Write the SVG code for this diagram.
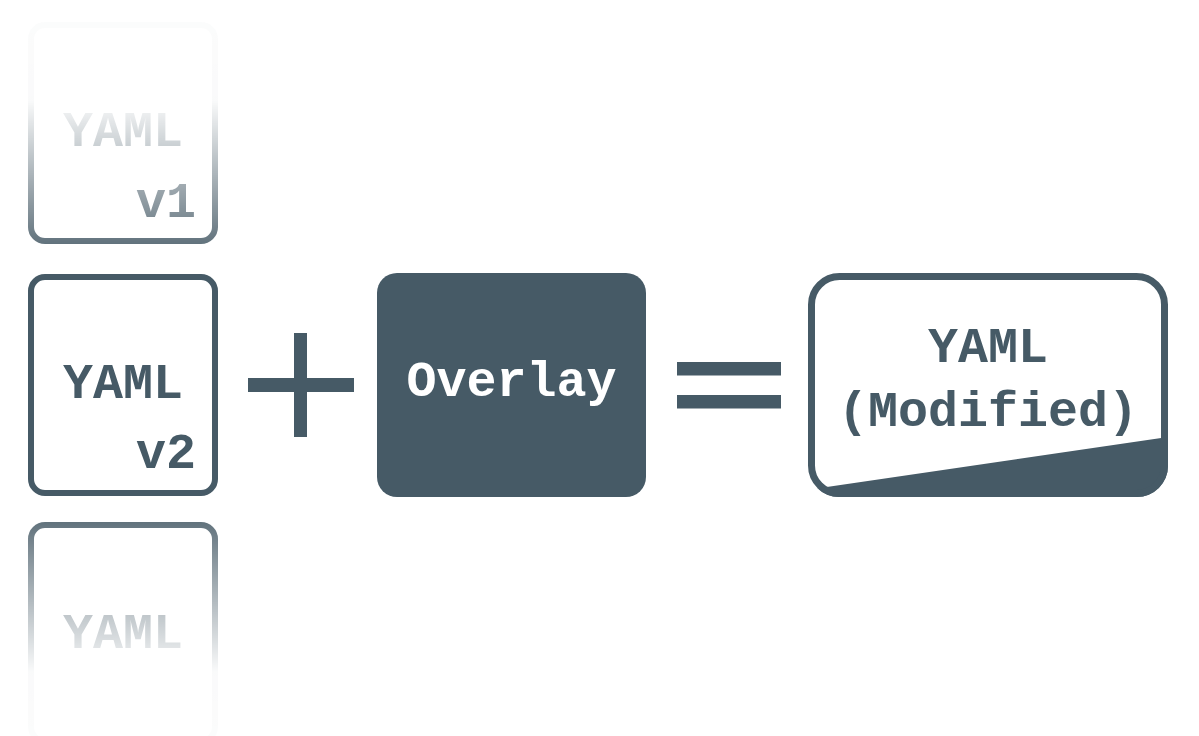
<svg xmlns="http://www.w3.org/2000/svg" width="1199" height="736" viewBox="0 0 1199 736">
<style>
.mono{font-family:"Liberation Mono","Courier New",monospace;font-weight:bold;font-size:50px}
.dark{fill:#465a66}
.box{fill:#fff;stroke:#465a66;stroke-width:6}
</style>
<defs>
<linearGradient id="fadeTop" gradientUnits="userSpaceOnUse" x1="0" y1="20" x2="0" y2="244">
<stop offset="0" stop-color="#fff" stop-opacity="0.02"/>
<stop offset="0.36" stop-color="#fff" stop-opacity="0.03"/>
<stop offset="1" stop-color="#fff" stop-opacity="0.85"/>
</linearGradient>
<linearGradient id="fadeBot" gradientUnits="userSpaceOnUse" x1="0" y1="522" x2="0" y2="736">
<stop offset="0" stop-color="#fff" stop-opacity="0.85"/>
<stop offset="0.7" stop-color="#fff" stop-opacity="0.03"/>
<stop offset="1" stop-color="#fff" stop-opacity="0.02"/>
</linearGradient>
<mask id="mTop" maskUnits="userSpaceOnUse" x="0" y="0" width="300" height="260">
<rect x="0" y="0" width="300" height="260" fill="url(#fadeTop)"/>
</mask>
<mask id="mBot" maskUnits="userSpaceOnUse" x="0" y="500" width="300" height="236">
<rect x="0" y="500" width="300" height="236" fill="url(#fadeBot)"/>
</mask>
<clipPath id="resClip">
<rect x="808" y="273" width="360" height="224" rx="31"/>
</clipPath>
</defs>

<g id="yaml-v1" mask="url(#mTop)">
<rect class="box" x="31" y="25" width="184" height="216" rx="14"/>
<text class="mono dark" x="123" y="146" text-anchor="middle">YAML</text>
<text class="mono dark" x="196" y="217" text-anchor="end">v1</text>
</g>

<g id="yaml-v2">
<rect class="box" x="31" y="277" width="184" height="216" rx="14"/>
<text class="mono dark" x="123" y="398" text-anchor="middle">YAML</text>
<text class="mono dark" x="196" y="468" text-anchor="end">v2</text>
</g>

<g id="yaml-v3" mask="url(#mBot)">
<rect class="box" x="31" y="525" width="184" height="216" rx="14"/>
<text class="mono dark" x="123" y="648" text-anchor="middle">YAML</text>
</g>

<g id="plus">
<rect class="dark" x="248" y="378" width="106" height="14"/>
<rect class="dark" x="294" y="333" width="13" height="104"/>
</g>

<g id="overlay">
<rect class="dark" x="377" y="273" width="269" height="224" rx="20"/>
<text class="mono" fill="#fff" x="511.5" y="396" text-anchor="middle">Overlay</text>
</g>

<g id="equals">
<rect class="dark" x="677" y="362" width="104" height="13.5"/>
<rect class="dark" x="677" y="395" width="104" height="13.5"/>
</g>

<g id="yaml-modified">
<rect x="811.5" y="276.5" width="353" height="217" rx="28" fill="#fff"/>
<polygon class="dark" clip-path="url(#resClip)" points="800,490.8 1170,436.7 1170,500 800,500"/>
<rect x="811.5" y="276.5" width="353" height="217" rx="28" fill="none" stroke="#465a66" stroke-width="7"/>
<text class="mono dark" x="988" y="362" text-anchor="middle">YAML</text>
<text class="mono dark" x="988" y="426" text-anchor="middle">(Modified)</text>
</g>
</svg>
